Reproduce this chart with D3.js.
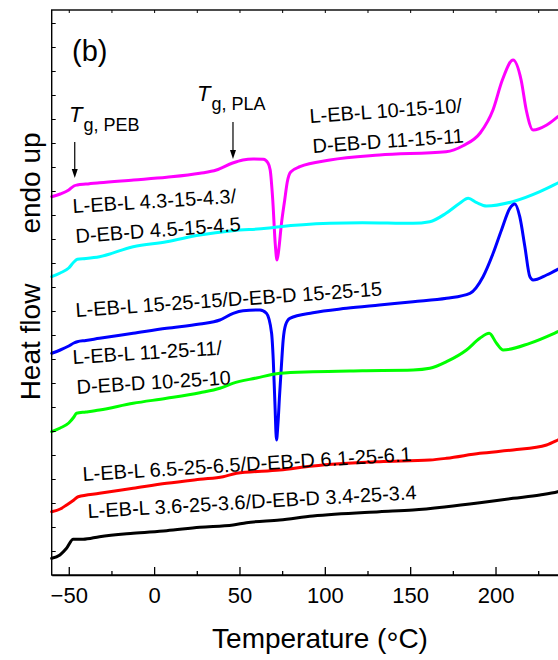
<!DOCTYPE html>
<html>
<head>
<meta charset="utf-8">
<script src="https://cdn.jsdelivr.net/npm/d3@7"></script>
<style>
  html, body { margin: 0; padding: 0; background: #fff; overflow: hidden; }
  text { font-family: "Liberation Sans", Arial, Helvetica, sans-serif; fill: #000; }
</style>
</head>
<body>
<svg id="chart" width="558" height="660"></svg>
<script>
// DSC heating traces, heat flow in arbitrary units (endo up), curves offset vertically
const xTicksMajor = [-50, 0, 50, 100, 150, 200];
const xTicksMinor = [-25, 25, 75, 125, 175, 225];

// L-EB-L 10-15-10 / D-EB-D 11-15-11
const tempMagenta = [-60, -55, -50, -47, -45, -40, -32, -12, 7.4, 26.8, 36.5, 46, 52, 58, 64, 66.7, 68, 69.5, 71, 72, 73, 74.5, 76.5, 78, 80, 85.4, 103, 132, 171, 181, 191, 198.5, 204, 210.3, 215, 218, 222, 230, 236.5, 240];
const flowMagenta = [378.3, 381, 385, 389, 390, 391, 392.3, 395, 397.7, 401.7, 405, 412, 415, 416, 415.7, 412, 405, 375, 330, 315, 325, 350, 375, 393, 403, 408.3, 415, 420, 423.3, 429.3, 442, 465, 495, 515, 495, 465, 445, 450, 458.3, 463];

// L-EB-L 4.3-15-4.3 / D-EB-D 4.5-15-4.5
const tempCyan = [-60, -55, -50, -47, -45, -40, -32, -12.3, 7.3, 26.8, 46, 65.8, 73.6, 103, 122, 151.6, 161.5, 171, 179, 184, 189, 194.7, 210, 226, 236.5, 240];
const flowCyan = [298.3, 302, 307, 313, 315.7, 316.5, 318.3, 328.3, 333.3, 340, 344.3, 346.7, 348.3, 351.7, 352.3, 351.7, 353.3, 361.7, 371.7, 376.7, 372.3, 369, 373.3, 383.3, 392, 395];

// L-EB-L 15-25-15 / D-EB-D 15-25-15
const tempBlue = [-60, -55, -50, -47, -45, -40, -32, -12.3, 7.3, 26.8, 38.5, 46.3, 52.1, 62, 65.8, 68.8, 69.8, 70.8, 71.7, 72.5, 73.5, 74.6, 75.6, 77, 79.5, 93, 112.7, 132, 151.7, 171.3, 185, 192.7, 198.6, 203.5, 208.4, 211.3, 214.2, 217.2, 220.1, 222, 229.9, 236.5, 240];
const flowBlue = [221.7, 225, 229, 232, 233.3, 234.5, 236.7, 241.7, 246.7, 251, 255, 261.7, 264.3, 265, 261.7, 242, 215, 170, 135, 150, 180, 210, 235, 250, 256.7, 262.3, 266.7, 270, 273.3, 276.7, 281.7, 298.3, 321.7, 345, 366.7, 371, 358.3, 328.3, 298.3, 295, 300, 305.7, 309];

// L-EB-L 11-25-11 / D-EB-D 10-25-10
const tempGreen = [-60, -55, -50, -47, -45.5, -40, -32, -12.3, 7.3, 26.8, 38.5, 46, 60, 73.6, 93, 122, 151.7, 161.5, 171.3, 183, 190.8, 196.3, 200.6, 204.5, 220, 236.5, 240];
const flowGreen = [143.3, 147, 152, 158, 161.7, 163, 165, 171.7, 176.7, 182.3, 186.7, 191.7, 197, 201.7, 203.3, 204.3, 205, 206.7, 213.3, 225, 236.7, 241.7, 231.7, 225, 231.7, 243.3, 246];

// L-EB-L 6.5-25-6.5 / D-EB-D 6.1-25-6.1
const tempRed = [-60, -55, -51.3, -47, -44.5, -32, -12.3, 7.3, 26.8, 40.4, 48.3, 73.6, 93, 132, 161.5, 171.3, 190.8, 210.3, 229.9, 236.5, 240];
const flowRed = [63.3, 66, 70, 75, 78.3, 81.7, 86.7, 91.7, 95.7, 98.3, 101.7, 105, 109, 113.3, 115, 116.7, 121.7, 125, 130, 135, 138];

// L-EB-L 3.6-25-3.6 / D-EB-D 3.4-25-3.4
const tempBlack = [-60, -55.2, -51.3, -47.4, -41.6, -32, -12.3, 7.3, 26.8, 46.3, 54.1, 73.6, 93, 132, 151.7, 171.3, 190.8, 210.3, 226, 236.5, 240];
const flowBlack = [16.7, 20, 26.7, 35.7, 35.7, 38.3, 41.7, 44.3, 47.7, 50, 52.3, 55, 59, 63.3, 65, 68.3, 72.3, 76.7, 80, 83.3, 85];

const traces = [
  { t: tempMagenta, f: flowMagenta, color: "#ff00ff" },
  { t: tempCyan,    f: flowCyan,    color: "#00ffff" },
  { t: tempBlue,    f: flowBlue,    color: "#0000ff" },
  { t: tempGreen,   f: flowGreen,   color: "#00ff00" },
  { t: tempRed,     f: flowRed,     color: "#ff0000" },
  { t: tempBlack,   f: flowBlack,   color: "#000000" }
];

const svg = d3.select("#chart");
const x = d3.scaleLinear().domain([-60, 240]).range([51.7, 563.8]);
const y = d3.scaleLinear().domain([0, 565]).range([575, 10]);

// traces
const line = d3.line()
  .x(d => x(d[0]))
  .y(d => y(d[1]))
  .curve(d3.curveMonotoneX);

svg.append("g").selectAll("path")
  .data(traces)
  .join("path")
  .attr("d", s => line(s.t.map((v, i) => [v, s.f[i]])))
  .attr("fill", "none")
  .attr("stroke", s => s.color)
  .attr("stroke-width", 3)
  .attr("stroke-linejoin", "round")
  .attr("stroke-linecap", "round");

// frame
svg.append("rect")
  .attr("x", x(-60)).attr("y", y(565))
  .attr("width", x(240) - x(-60)).attr("height", y(0) - y(565))
  .attr("fill", "none").attr("stroke", "#000").attr("stroke-width", 1.4);

// bottom axis
const gx = svg.append("g").attr("transform", `translate(0,${y(0)})`)
  .call(d3.axisBottom(x).tickValues(xTicksMajor).tickSizeInner(-8).tickSizeOuter(0).tickPadding(12)
    .tickFormat(d3.format("d")));
gx.selectAll("text").style("font-size", "22px").attr("fill", "#000");
gx.select(".domain").attr("stroke-width", 1.4);
gx.selectAll(".tick line").attr("stroke-width", 1.3);

const gxm = svg.append("g").attr("transform", `translate(0,${y(0)})`)
  .call(d3.axisBottom(x).tickValues(xTicksMinor).tickSizeInner(-4).tickSizeOuter(0).tickFormat(""));
gxm.select(".domain").remove();
gxm.selectAll(".tick line").attr("stroke-width", 1.3);

// top axis ticks
const gt = svg.append("g").attr("transform", `translate(0,${y(565)})`)
  .call(d3.axisTop(x).tickValues(xTicksMajor.concat(xTicksMinor)).tickSizeInner(-3).tickSizeOuter(0).tickFormat(""));
gt.select(".domain").remove();

// left axis ticks (no labels)
const gl = svg.append("g").attr("transform", `translate(${x(-60)},0)`)
  .call(d3.axisLeft(y).tickValues(d3.range(24, 565, 24)).tickSizeInner(-4).tickSizeOuter(0).tickFormat(""));
gl.select(".domain").remove();

// axis titles
const xt = svg.append("text")
  .attr("x", 320).attr("y", 648)
  .attr("text-anchor", "middle")
  .style("font-size", "28px");
xt.append("tspan").text("Temperature (");
xt.append("tspan").text("°").style("font-size", "30px").attr("dy", 5);
xt.append("tspan").text("C)").attr("dy", -5);

svg.append("text")
  .attr("transform", "translate(40,183) rotate(-90)")
  .attr("text-anchor", "middle")
  .style("font-size", "28px")
  .text("endo up");
svg.append("text")
  .attr("transform", "translate(40,342) rotate(-90)")
  .attr("text-anchor", "middle")
  .style("font-size", "28px")
  .text("Heat flow");

// panel tag
svg.append("text").attr("x", 72).attr("y", 61).style("font-size", "29px").text("(b)");

// glass transition markers
function tgLabel(tx, ty, sub) {
  const t = svg.append("text").attr("x", tx).attr("y", ty);
  t.append("tspan").text("T").style("font-style", "italic").style("font-size", "22px");
  t.append("tspan").text("g, " + sub).style("font-size", "18px").attr("dy", 9).attr("dx", 1);
}
function arrow(temp, fTop, fTip) {
  const ax = x(temp), y0 = y(fTop), y1 = y(fTip);
  svg.append("line").attr("x1", ax).attr("x2", ax).attr("y1", y0).attr("y2", y1 - 6)
    .attr("stroke", "#000").attr("stroke-width", 1.2);
  svg.append("path")
    .attr("d", `M${ax - 3},${y1 - 9} L${ax + 3},${y1 - 9} L${ax},${y1} Z`)
    .attr("fill", "#000");
}
tgLabel(69, 122, "PEB");
arrow(-46.5, 433, 397);
tgLabel(197, 101, "PLA");
arrow(46.2, 453, 416);

// sample labels
const labels = [
  ["L-EB-L 10-15-10/", 310, 123, -4],
  ["D-EB-D 11-15-11", 313, 153, -4],
  ["L-EB-L 4.3-15-4.3/", 73, 213, -3.5],
  ["D-EB-D 4.5-15-4.5", 76, 243, -4.2],
  ["L-EB-L 15-25-15/D-EB-D 15-25-15", 76, 317, -4],
  ["L-EB-L 11-25-11/", 73, 364, -3.6],
  ["D-EB-D 10-25-10", 77, 394, -3.6],
  ["L-EB-L 6.5-25-6.5/D-EB-D 6.1-25-6.1", 83, 481, -3.5],
  ["L-EB-L 3.6-25-3.6/D-EB-D 3.4-25-3.4", 88, 518, -3.3]
];
svg.append("g").selectAll("text")
  .data(labels)
  .join("text")
  .attr("transform", d => `translate(${d[1]},${d[2]}) rotate(${d[3]})`)
  .style("font-size", "20px")
  .text(d => d[0]);
</script>
</body>
</html>
